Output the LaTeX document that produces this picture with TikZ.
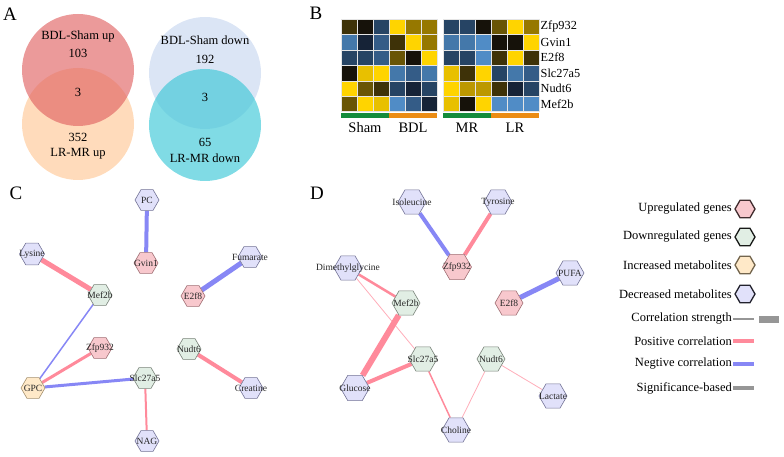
\documentclass[tikz,border=0pt]{standalone}
\usepackage{fontspec}
\setmainfont{Liberation Serif}
\usetikzlibrary{shapes.geometric,backgrounds}

% venn colours
\definecolor{vred}{RGB}{225,100,100}
\definecolor{vorange}{RGB}{255,200,150}
\definecolor{vlblue}{RGB}{200,215,240}
\definecolor{vcyan}{RGB}{60,200,215}
% heatmap palette
\definecolor{Y1}{RGB}{255,212,0}
\definecolor{Y2}{RGB}{232,192,0}
\definecolor{Y3}{RGB}{188,152,0}
\definecolor{O1}{RGB}{150,120,0}
\definecolor{O2}{RGB}{105,85,5}
\definecolor{O3}{RGB}{62,50,8}
\definecolor{K}{RGB}{22,18,10}
\definecolor{N}{RGB}{22,35,55}
\definecolor{B1}{RGB}{38,68,100}
\definecolor{B2}{RGB}{52,92,135}
\definecolor{B3}{RGB}{68,120,170}
\definecolor{B4}{RGB}{80,140,198}
\definecolor{grpgreen}{RGB}{20,140,60}
\definecolor{grporange}{RGB}{235,140,20}
% network colours
\definecolor{upfill}{RGB}{248,200,205}
\definecolor{upline}{RGB}{160,110,115}
\definecolor{downfill}{RGB}{225,238,228}
\definecolor{downline}{RGB}{120,130,120}
\definecolor{incfill}{RGB}{255,233,200}
\definecolor{incline}{RGB}{165,145,110}
\definecolor{decfill}{RGB}{225,225,250}
\definecolor{decline}{RGB}{115,115,150}
\definecolor{posc}{RGB}{255,138,155}
\definecolor{negc}{RGB}{135,135,245}
\definecolor{sigc}{RGB}{150,150,150}

\tikzset{
  hexnode/.style={regular polygon, regular polygon sides=6, minimum size=#1, inner sep=0pt, draw, line width=0.6pt},
  upgene/.style={hexnode=#1, fill=upfill, draw=upline},
  downgene/.style={hexnode=#1, fill=downfill, draw=downline},
  incmet/.style={hexnode=#1, fill=incfill, draw=incline},
  decmet/.style={hexnode=#1, fill=decfill, draw=decline},
  poscor/.style={draw=posc, line width=#1},
  negcor/.style={draw=negc, line width=#1},
  every label/.append style={font=\fontsize{9.5}{10}\selectfont, text=black!85, inner sep=0pt},
  paneltag/.style={font=\fontsize{19}{20}\selectfont},
  venntxt/.style={font=\fontsize{12.5}{14}\selectfont},
  legtxt/.style={font=\fontsize{12.5}{14}\selectfont, anchor=east, inner sep=1pt},
}

\begin{document}
\begin{tikzpicture}[x=1pt,y=-1pt]
  \useasboundingbox (0,0) rectangle (784,457);

  %%%%% A %%%%%
  \node[paneltag] (tagA) at (10,14) {A};
  \fill[vorange, fill opacity=0.65] (78,124) circle (56pt);
  \fill[vred, fill opacity=0.65] (78,70) circle (56pt);
  \fill[vlblue, fill opacity=0.65] (205,73) circle (56pt);
  \fill[vcyan, fill opacity=0.65] (205,125) circle (56pt);

  \node[venntxt] (upA) at (78,36) {BDL-Sham up};
  \node[venntxt] (upAn) at (78,53) {103};
  \node[venntxt] (upAB) at (78,92) {3};
  \node[venntxt] (upBn) at (78,137) {352};
  \node[venntxt] (upB) at (78,154) {LR-MR up};
  \node[venntxt] (dnA) at (205,40) {BDL-Sham down};
  \node[venntxt] (dnAn) at (205,59) {192};
  \node[venntxt] (dnAB) at (205,97) {3};
  \node[venntxt] (dnBn) at (205,142) {65};
  \node[venntxt] (dnB) at (205,158) {LR-MR down};

  %%%%% B %%%%%
  \node[paneltag] (tagB) at (316,13) {B};
  \foreach \row [count=\i from 0] in {{O3,K,B1,Y1,O1,O1},{B3,N,B2,O3,Y1,O1},{B1,B1,B2,O2,K,Y1},{K,Y2,Y1,B3,B2,B3},{Y1,O2,O3,B1,N,B1},{O2,Y1,Y2,B4,B2,N}}
    \foreach \c [count=\j from 0] in \row
      \filldraw[fill=\c, draw=white!80!gray, line width=0.5pt] (341+\j*16,19+\i*15.45) rectangle ++(16,15.45);
  \foreach \row [count=\i from 0] in {{B1,B1,K,O2,Y1,O1},{B3,B3,B4,K,K,Y1},{B1,B1,B4,O3,Y1,O3},{Y2,O3,Y1,B1,B3,B2},{Y1,Y3,Y3,O3,N,B1},{Y2,K,Y1,B4,B4,B4}}
    \foreach \c [count=\j from 0] in \row
      \filldraw[fill=\c, draw=white!80!gray, line width=0.5pt] (443.3+\j*16,19+\i*15.45) rectangle ++(16,15.45);
  \fill[grpgreen] (341,113.3) rectangle (389,118.3);
  \fill[grporange] (389,113.3) rectangle (437,118.3);
  \fill[grpgreen] (443.3,113.3) rectangle (491.3,118.3);
  \fill[grporange] (491.3,113.3) rectangle (539.3,118.3);
  \node[font=\fontsize{14.5}{16}\selectfont] (gSham) at (365,128) {Sham};
  \node[font=\fontsize{14.5}{16}\selectfont] (gBDL) at (413,128) {BDL};
  \node[font=\fontsize{14.5}{16}\selectfont] (gMR) at (467,128) {MR};
  \node[font=\fontsize{14.5}{16}\selectfont] (gLR) at (515,128) {LR};
  \foreach \g [count=\i from 0] in {Zfp932,Gvin1,E2f8,Slc27a5,Nudt6,Mef2b}
    \node[font=\fontsize{12.3}{13}\selectfont, anchor=west, inner sep=1pt] (hm\i) at (539.5,26.7+\i*15.45) {\g};

  %%%%% C %%%%%
  \node[paneltag] (tagC) at (16,193) {C};
  \node[decmet=24pt] (cPC) at (147,200) [label=center:PC] {};
  \node[upgene=24pt] (cGvin) at (146,263) [label=center:Gvin1] {};
  \node[decmet=25pt] (cLys) at (32,254) [label=center:Lysine] {};
  \node[downgene=24pt] (cMef) at (100,295) [label=center:Mef2b] {};
  \node[upgene=24pt] (cE2f) at (193,296) [label=center:E2f8] {};
  \node[decmet=24pt] (cFum) at (250,257) [label=center:Fumarate] {};
  \node[upgene=24pt] (cZfp) at (100,348) [label=center:Zfp932] {};
  \node[downgene=24pt] (cNud) at (189,349) [label=center:Nudt6] {};
  \node[incmet=24pt] (cGPC) at (33,388) [label=center:GPC] {};
  \node[downgene=24pt] (cSlc) at (145,378) [label=center:Slc27a5] {};
  \node[decmet=24pt] (cNAG) at (147,441) [label=center:NAG] {};
  \node[decmet=24pt] (cCre) at (251,388) [label=center:Creatine] {};

  \begin{scope}[on background layer]
    \draw[negcor=4pt] (cPC) -- (cGvin);
    \draw[poscor=5pt] (cLys) -- (cMef);
    \draw[negcor=5pt] (cE2f) -- (cFum);
    \draw[negcor=1.5pt] (cMef) -- (cGPC);
    \draw[poscor=3pt] (cZfp) -- (cGPC);
    \draw[negcor=3pt] (cGPC) -- (cSlc);
    \draw[poscor=2pt] (cSlc) -- (cNAG);
    \draw[poscor=4pt] (cNud) -- (cCre);
  \end{scope}

  %%%%% D %%%%%
  \node[paneltag] (tagD) at (317,193) {D};
  \node[decmet=28pt] (dIle) at (412,202) [label=center:Isoleucine] {};
  \node[decmet=28pt] (dTyr) at (498,202) [label=center:Tyrosine] {};
  \node[upgene=29pt] (dZfp) at (457,267) [label=center:Zfp932] {};
  \node[decmet=28pt] (dPUFA) at (570,273) [label=center:PUFA] {};
  \node[upgene=28pt] (dE2f) at (509,303) [label=center:E2f8] {};
  \node[downgene=28pt] (dMef) at (406,303) [label=center:Mef2b] {};
  \node[decmet=28pt] (dDMG) at (348,268) [label=center:Dimethylglycine] {};
  \node[downgene=28pt] (dSlc) at (423,359) [label=center:Slc27a5] {};
  \node[downgene=28pt] (dNud) at (491,359) [label=center:Nudt6] {};
  \node[decmet=28pt] (dLac) at (553,396) [label=center:Lactate] {};
  \node[decmet=28pt] (dCho) at (456,430) [label=center:Choline] {};
  \node[decmet=29pt] (dGlc) at (355,388) [label=center:Glucose] {};

  \begin{scope}[on background layer]
    \draw[negcor=4pt] (dIle) -- (dZfp);
    \draw[poscor=4pt] (dTyr) -- (dZfp);
    \draw[negcor=5pt] (dE2f) -- (dPUFA);
    \draw[poscor=2.5pt] (dDMG) -- (dMef);
    \draw[poscor=0.8pt, draw=posc!70] (dDMG) -- (dSlc);
    \draw[poscor=6pt] (dMef) -- (dGlc);
    \draw[poscor=4pt] (dGlc) -- (dSlc);
    \draw[poscor=1.5pt] (dSlc) -- (dCho);
    \draw[poscor=0.8pt, draw=posc!70] (dNud) -- (dCho);
    \draw[poscor=0.8pt, draw=posc!70] (dNud) -- (dLac);
  \end{scope}

  %%%%% legend %%%%%
  \node[legtxt] (lUp) at (733,209) {Upregulated genes};
  \node[hexnode=20pt, fill=upfill, draw=black!60!upline, line width=1.3pt] (lUpHex) at (745,209) {};
  \node[legtxt] (lDown) at (733,237) {Downregulated genes};
  \node[hexnode=20pt, fill=downfill, draw=black!80!downline, line width=1.3pt] (lDownHex) at (745,237) {};
  \node[legtxt] (lInc) at (733,265) {Increased metabolites};
  \node[hexnode=20pt, fill=incfill, draw=black!30!incline, line width=1.3pt] (lIncHex) at (745,265) {};
  \node[legtxt] (lDec) at (733,294) {Decreased metabolites};
  \node[hexnode=20pt, fill=decfill, draw=black!70!decline, line width=1.3pt] (lDecHex) at (745,294) {};

  \node[legtxt] (lStr) at (733,319) {Correlation strength};
  \draw[sigc, line width=2pt] (lStr.east) -- ++(21,0);
  \fill[sigc] (759,315.5) rectangle (779,322.5);
  \node[legtxt] (lPos) at (733,341) {Positive correlation};
  \draw[posc, line width=4pt] (lPos.east) -- ++(21,0);
  \node[legtxt] (lNeg) at (733,364) {Negtive correlation};
  \draw[negc, line width=4pt] (lNeg.east) -- ++(21,0);
  \node[legtxt] (lSig) at (733,388) {Significance-based};
  \draw[sigc, line width=4pt] (lSig.east) -- ++(21,0);
\end{tikzpicture}
\end{document}
